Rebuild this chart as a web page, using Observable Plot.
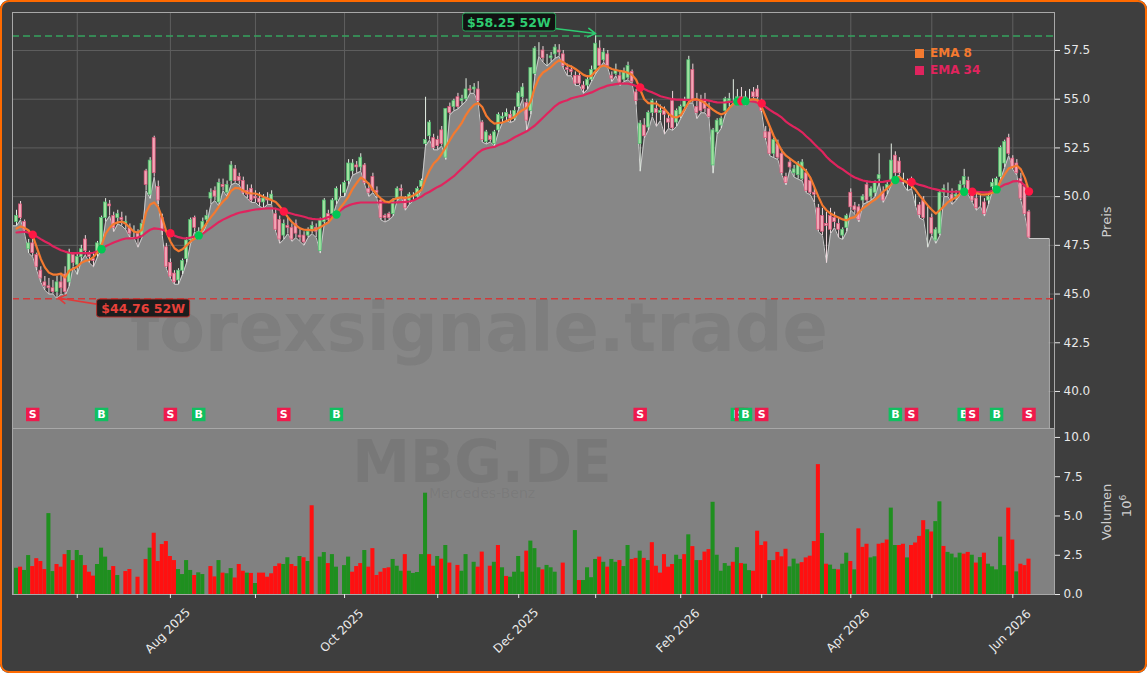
<!DOCTYPE html>
<html><head><meta charset="utf-8">
<script src="https://cdn.jsdelivr.net/npm/d3@7"></script>
<script src="https://cdn.jsdelivr.net/npm/@observablehq/plot@0.6"></script>
<style>
body{margin:0;background:#ffffff;}
#wrap{position:relative;width:1147px;height:673px;background:#3e3e3e;border-radius:9px;overflow:hidden;font-family:"DejaVu Sans",sans-serif;}
#border{position:absolute;left:0;top:0;width:1147px;height:673px;box-sizing:border-box;border:2px solid #ff6a00;border-radius:9px;pointer-events:none;}
#price,#vol,#over{position:absolute;left:0;}
#price{top:0}
#vol{top:428px}
#over{top:0;width:1147px;height:673px;pointer-events:none}
.lbl52{position:absolute;transform:translate(-50%,-50%);font:bold 12.5px "DejaVu Sans",sans-serif;padding:1px 4px;border-radius:3px;background:rgba(10,10,10,0.85);white-space:nowrap;line-height:15px}
.axl{position:absolute;transform:translate(-50%,-50%) rotate(-90deg);color:#cfcfcf;font:13px "DejaVu Sans",sans-serif;white-space:nowrap}
.leg{position:absolute;font:bold 12px "DejaVu Sans",sans-serif;white-space:nowrap;line-height:17px}
.leg span.sq{display:inline-block;width:9px;height:9px;margin-right:6px;vertical-align:-1px}
</style></head><body>
<div id="wrap"><div id="price"></div><div id="vol"></div><div id="over"></div><div id="border"></div></div>
<script>
// ---------- data (trading-day index 0 = 10 Jun 2025 ... 250 = 5 Jun 2026) ----------
const openP = [
48.7,49.6,48.7,47.3,47.6,47.0,46.2,45.6,45.4,45.3,
45.1,45.6,46.0,45.6,47.0,46.5,46.9,47.8,47.0,46.8,
47.1,47.5,48.9,49.6,49.0,48.9,48.9,48.6,48.4,48.2,
48.1,48.0,51.3,50.1,53.0,50.5,48.9,47.4,46.6,46.05,
45.7,46.2,46.8,47.75,48.9,47.9,48.3,48.8,49.9,50.3,
49.7,50.6,50.2,50.8,51.4,51.0,50.8,50.3,50.4,50.0,
49.9,49.7,49.9,49.8,49.1,48.8,48.0,48.5,48.4,48.6,
48.0,48.0,48.0,48.3,48.4,47.2,48.7,49.1,49.1,49.8,
50.3,50.2,50.8,51.3,51.6,51.5,51.6,50.4,51.0,50.3,
49.8,49.0,49.1,49.1,49.9,50.4,49.9,49.8,50.0,50.0,
50.5,52.7,53.1,53.0,52.9,53.4,52.0,54.6,54.6,55.1,
54.9,55.0,55.5,55.5,55.5,53.8,52.8,53.1,52.7,53.4,
54.0,54.1,54.2,54.0,54.6,55.1,54.8,54.4,56.3,57.5,
57.5,57.0,57.1,57.3,57.5,57.3,56.6,56.5,56.2,56.2,
55.7,55.7,56.0,56.5,57.6,57.0,57.3,56.2,56.3,56.2,
56.0,56.1,56.4,55.35,52.7,53.65,53.55,54.3,54.5,54.3,
54.4,54.0,54.9,53.8,54.2,54.6,54.9,56.5,54.6,54.9,
54.9,54.5,51.6,53.3,53.65,54.4,54.9,55.0,55.0,55.1,
54.9,55.1,55.35,55.5,54.8,53.3,53.3,52.2,52.7,52.2,
51.0,51.75,51.2,51.1,50.9,51.2,50.8,50.2,49.4,49.0,
48.6,49.0,48.9,48.6,48.0,48.4,50.2,49.5,49.45,49.8,
50.6,50.0,50.2,50.9,50.2,50.4,50.8,52.1,51.8,51.0,
50.6,50.8,49.8,49.55,49.8,49.1,48.9,47.75,48.1,50.2,
50.3,50.1,50.0,50.3,50.6,50.8,50.1,49.9,49.8,49.7,
49.8,50.5,50.5,51.0,51.7,53.0,51.95,51.7,50.9,50.5,
49.2];
const highP = [
49.3,49.75,48.8,47.8,47.8,47.1,46.4,45.9,45.8,45.7,
45.9,46.0,46.4,47.3,47.1,47.1,47.5,48.0,47.2,47.1,
47.7,49.0,49.9,49.8,49.2,49.3,49.2,49.0,48.6,48.5,
48.3,48.8,51.4,52.0,53.1,50.8,49.1,47.6,46.8,46.2,
46.3,46.8,47.9,48.9,49.0,48.4,48.9,49.3,50.4,50.5,
50.9,50.9,50.8,51.8,51.6,51.2,51.0,50.6,50.6,50.3,
50.2,50.1,50.2,50.3,49.4,49.0,48.8,48.9,48.6,48.8,
48.3,48.2,48.4,48.7,48.6,48.9,49.9,49.3,49.9,50.5,
50.6,50.8,51.9,51.9,51.8,52.2,51.7,50.7,51.2,50.5,
49.9,49.1,49.2,49.9,50.5,50.6,50.0,50.2,50.2,50.5,
50.9,55.1,53.9,53.2,53.1,53.6,54.5,54.8,55.0,55.3,
55.2,56.05,55.7,55.8,55.9,53.9,53.4,53.2,53.4,54.3,
54.3,54.5,54.4,54.6,55.4,55.8,55.0,56.6,57.7,57.9,
57.7,57.3,57.4,57.8,57.8,57.5,56.8,56.7,56.4,56.4,
55.9,56.2,56.7,58.25,58.0,57.6,57.5,56.4,56.8,56.4,
56.6,56.9,56.5,55.5,53.9,54.0,54.4,55.0,54.9,54.7,
54.6,54.3,55.4,54.5,54.7,55.1,57.2,56.8,55.3,55.2,
55.3,54.8,53.5,54.0,54.1,55.1,55.3,56.0,55.5,55.6,
55.4,55.5,55.6,55.7,55.0,53.6,53.5,53.0,52.9,52.4,
51.2,51.9,51.6,51.8,51.9,51.4,51.0,50.5,49.6,49.4,
49.2,49.4,49.2,48.9,48.4,49.1,50.4,49.7,49.6,50.1,
50.8,50.5,50.8,52.2,50.5,50.8,52.7,52.3,52.0,51.2,
50.9,51.0,50.1,49.7,50.0,49.5,49.1,48.4,50.3,50.6,
50.7,50.4,50.3,50.8,51.4,51.0,50.3,50.2,50.1,49.9,
50.2,50.9,51.0,52.6,52.9,53.2,52.1,51.9,51.2,50.6,
49.3];
const lowP = [
48.5,48.8,48.1,47.1,46.9,46.2,45.6,45.2,45.0,45.0,
44.76,45.0,44.9,45.4,46.4,46.0,46.7,47.0,46.6,46.4,
46.9,47.3,48.7,49.0,48.2,48.6,48.5,48.3,47.9,47.9,
47.4,47.9,50.3,49.9,51.0,49.6,48.0,46.3,45.8,45.5,
45.5,46.0,46.6,47.6,48.2,47.8,48.1,48.6,49.6,49.8,
49.5,50.3,50.0,50.6,50.7,50.6,50.1,49.9,49.7,49.7,
49.5,49.4,49.6,49.6,48.2,47.6,47.8,48.1,47.7,47.9,
47.7,47.5,47.9,48.1,47.9,47.1,48.6,48.7,48.9,49.6,
50.0,50.0,50.6,51.1,51.2,51.3,50.6,50.0,50.2,49.9,
48.8,48.7,48.8,49.0,49.8,50.0,49.3,49.6,49.8,49.9,
50.4,52.6,52.9,52.4,52.4,52.6,51.9,54.2,54.4,54.5,
54.7,54.9,55.3,55.3,54.8,52.8,52.7,52.8,52.6,53.3,
53.8,53.9,53.8,53.9,54.5,55.0,53.4,54.2,56.2,57.2,
56.9,56.7,56.9,57.1,57.2,56.6,56.2,56.2,55.7,55.7,
55.3,55.5,55.9,56.3,56.6,56.9,56.6,55.9,56.2,55.7,
55.9,56.0,55.8,54.7,51.3,53.0,53.4,54.1,53.6,53.9,
53.2,53.5,53.4,53.6,54.0,54.4,54.8,54.8,54.0,54.3,
54.3,54.0,51.2,53.2,53.5,54.2,54.6,54.8,54.7,54.8,
54.7,54.9,55.0,55.0,54.3,52.9,52.1,52.0,51.9,51.1,
50.6,51.4,51.0,50.9,50.8,50.2,50.1,49.7,48.2,48.0,
46.6,48.1,48.4,47.9,47.8,48.2,49.3,49.1,48.7,49.6,
49.7,49.8,50.0,50.7,49.7,50.1,50.6,51.0,51.1,50.6,
50.3,50.4,49.5,48.9,48.8,47.4,48.0,47.6,48.0,50.0,
50.0,49.6,49.8,50.1,50.4,50.1,49.7,49.3,49.5,49.0,
49.6,50.3,50.3,50.9,51.5,52.1,51.4,51.1,49.8,49.0,
47.85];
const closeP = [
49.0,48.9,48.3,47.6,47.1,46.4,45.8,45.4,45.3,45.1,
45.6,45.3,45.1,47.1,46.6,46.9,47.3,47.2,46.9,46.7,
47.6,48.9,49.7,49.5,48.4,49.1,48.8,48.7,48.1,48.2,
47.9,48.6,50.6,51.85,51.2,49.8,48.3,46.4,45.9,45.6,
46.2,46.7,47.75,48.8,48.4,48.2,48.7,49.0,50.2,50.0,
50.7,50.5,50.6,51.6,50.8,50.8,50.2,50.1,49.8,49.9,
49.7,49.9,49.8,50.1,48.3,47.8,48.6,48.4,47.8,48.1,
47.9,47.65,48.2,48.5,48.2,48.8,49.8,48.8,49.8,50.4,
50.3,50.7,51.7,51.7,51.5,52.0,50.7,50.2,50.3,50.2,
48.9,48.9,48.9,49.8,50.4,50.3,49.4,50.1,50.0,50.4,
50.8,52.9,53.8,52.5,52.6,52.7,54.5,54.3,54.9,54.6,
55.0,55.5,55.45,55.6,54.9,52.9,53.3,52.9,53.3,54.2,
54.1,54.3,54.0,54.4,55.3,55.6,53.9,56.6,57.6,57.5,
57.1,57.0,57.2,57.65,57.4,56.7,56.5,56.4,55.8,55.8,
55.5,56.0,56.5,57.85,56.7,57.4,56.7,56.05,56.5,55.85,
56.4,56.7,55.9,54.9,53.75,53.1,54.3,54.9,54.3,54.4,
54.2,53.8,53.5,54.4,54.6,54.9,57.0,54.9,54.3,54.4,
54.5,54.1,53.4,53.9,54.0,55.0,55.0,55.0,55.1,55.0,
55.1,55.1,55.1,55.1,54.4,53.0,52.2,52.9,52.0,51.2,
50.7,51.5,51.4,51.7,51.75,50.3,50.2,50.1,48.3,48.2,
48.5,48.3,48.7,48.3,48.3,49.0,49.45,49.3,48.8,50.0,
49.8,50.4,50.7,51.1,49.8,50.6,51.85,51.2,51.2,51.0,
50.6,50.6,49.8,49.05,48.9,49.1,48.1,48.3,50.2,50.4,
50.3,49.8,50.1,50.6,51.0,50.2,49.8,49.4,49.8,49.1,
50.0,50.7,50.9,52.5,52.8,52.2,51.5,51.2,49.9,49.1,
47.9];
const ema8 = [
48.36,48.47,48.4,48.26,48.0,47.4,46.8,46.37,46.1,46.0,
46.0,46.05,45.85,46.2,46.3,46.4,46.6,46.7,46.75,46.9,
47.13,47.5,48.1,48.4,48.6,48.68,48.72,48.6,48.4,48.2,
48.16,48.3,49.2,49.6,49.7,49.45,48.9,48.2,47.7,47.35,
47.2,47.3,47.5,47.7,47.85,48.0,48.35,48.65,48.95,49.2,
49.5,49.75,49.95,50.3,50.45,50.42,50.3,50.2,50.16,50.16,
50.08,49.98,49.9,49.82,49.72,49.5,49.24,48.95,48.7,48.52,
48.37,48.3,48.29,48.27,48.33,48.43,48.55,48.67,48.93,49.1,
49.44,49.7,50.0,50.4,50.7,50.98,50.85,50.65,50.35,50.1,
49.9,49.75,49.72,49.85,49.92,49.96,49.94,49.97,50.06,50.2,
50.35,50.9,51.35,51.7,51.9,52.2,52.55,52.9,53.24,53.5,
53.8,54.2,54.5,54.72,54.8,54.6,54.15,53.9,53.75,53.78,
53.8,53.88,53.98,54.1,54.3,54.45,54.55,54.9,55.6,56.1,
56.37,56.5,56.65,56.85,57.0,56.9,56.75,56.68,56.55,56.4,
56.25,56.17,56.2,56.45,56.65,56.73,56.65,56.55,56.5,56.45,
56.42,56.35,56.25,56.0,55.5,55.0,54.8,54.78,54.78,54.62,
54.5,54.25,54.1,54.06,54.17,54.5,54.85,54.98,55.0,54.92,
54.8,54.62,54.45,54.32,54.22,54.3,54.55,54.75,54.88,54.92,
54.95,54.97,55.0,54.95,54.6,54.1,53.6,53.1,52.72,52.35,
52.1,51.95,51.8,51.65,51.5,51.3,50.98,50.5,50.0,49.55,
49.3,49.13,49.02,48.93,48.83,48.78,48.9,48.95,49.2,49.4,
49.55,49.72,49.85,50.03,50.25,50.42,50.62,50.95,51.0,50.83,
50.7,50.55,50.35,50.05,49.8,49.55,49.33,49.13,49.3,49.5,
49.72,49.85,49.95,50.16,50.3,50.28,50.25,50.18,50.12,50.1,
50.13,50.2,50.35,50.8,51.15,51.45,51.52,51.6,51.4,50.95,
50.3];
const ema34 = [
48.16,48.18,48.2,48.15,48.05,47.95,47.82,47.7,47.6,47.45,
47.35,47.25,47.18,47.12,47.1,47.1,47.1,47.1,47.1,47.12,
47.2,47.3,47.45,47.55,47.65,47.72,47.8,47.85,47.86,47.87,
47.9,47.98,48.15,48.3,48.37,48.35,48.3,48.22,48.12,48.0,
47.92,47.87,47.86,47.9,47.95,48.0,48.1,48.25,48.4,48.55,
48.7,48.82,48.92,49.02,49.1,49.17,49.22,49.26,49.3,49.34,
49.36,49.38,49.4,49.4,49.38,49.32,49.24,49.18,49.12,49.06,
49.02,48.97,48.9,48.86,48.84,48.83,48.88,48.95,49.0,49.08,
49.3,49.45,49.55,49.62,49.67,49.7,49.7,49.7,49.7,49.7,
49.7,49.7,49.7,49.7,49.71,49.72,49.73,49.75,49.8,49.9,
50.0,50.15,50.25,50.38,50.5,50.6,50.75,50.9,51.05,51.25,
51.45,51.65,51.85,52.05,52.25,52.4,52.47,52.52,52.55,52.65,
52.72,52.8,52.92,53.05,53.15,53.25,53.35,53.5,53.65,53.85,
54.05,54.25,54.45,54.65,54.8,54.88,54.95,55.05,55.1,55.15,
55.2,55.28,55.35,55.45,55.55,55.62,55.7,55.74,55.77,55.8,
55.8,55.8,55.75,55.68,55.6,55.52,55.42,55.35,55.25,55.15,
55.1,55.05,55.0,54.98,54.98,54.97,54.97,54.97,54.97,54.97,
54.97,54.93,54.88,54.84,54.83,54.84,54.86,54.87,54.88,54.9,
54.9,54.9,54.88,54.82,54.78,54.6,54.45,54.32,54.2,54.05,
53.85,53.7,53.57,53.45,53.3,53.1,52.92,52.7,52.5,52.3,
52.05,51.85,51.68,51.52,51.4,51.25,51.1,50.98,50.9,50.83,
50.78,50.76,50.75,50.75,50.76,50.8,50.83,50.85,50.83,50.8,
50.78,50.75,50.68,50.6,50.55,50.48,50.42,50.37,50.32,50.28,
50.26,50.25,50.25,50.25,50.25,50.25,50.25,50.24,50.23,50.22,
50.22,50.3,50.37,50.5,50.62,50.68,50.78,50.8,50.75,50.55,
50.26];
// volume in millions and bar colour (1 = green, 0 = red)
const volume = [
1.67,1.74,1.53,2.48,1.78,2.28,2.1,1.59,5.15,1.46,
1.91,1.74,2.54,2.8,2.16,2.8,2.48,1.84,1.42,1.17,
1.91,2.95,2.38,1.53,1.78,1.21,0,1.46,1.59,0,
1.1,0,2.23,2.95,3.9,2.1,3.18,3.37,2.42,2.16,
1.59,1.27,2.16,1.53,1.21,1.38,1.27,0,1.78,1.12,
2.16,1.36,1.32,1.65,1.05,1.91,1.48,1.36,1.34,0.7,
1.36,1.36,1.1,1.32,1.78,1.95,1.91,2.34,1.91,1.78,
2.42,2.34,2.1,5.65,0,2.38,2.67,1.97,2.54,1.74,
0,1.84,2.38,1.42,1.78,1.97,2.8,1.74,2.92,1.21,
1.42,1.65,1.7,2.23,1.8,1.48,2.54,1.48,1.34,1.4,
2.54,6.45,2.54,1.8,2.42,2.25,3.12,2.0,0,1.85,
1.48,2.54,0,2.05,1.74,2.7,0,1.8,2.05,3.12,
1.7,1.15,1.1,1.42,2.42,1.42,2.76,3.4,2.92,1.7,
1.57,1.85,1.7,1.42,0,2.0,0,0,4.07,0.89,
0.89,1.7,1.07,2.23,2.38,2.05,1.74,2.23,2.05,2.16,
1.78,3.12,2.23,2.3,2.76,2.3,2.16,3.3,1.8,1.36,
2.54,1.74,1.91,2.5,2.23,2.54,3.8,3.05,2.16,2.16,
2.7,2.86,5.87,2.5,1.48,1.97,1.8,2.05,2.98,1.97,
1.93,1.52,1.48,4.03,3.12,3.35,2.16,2.16,2.68,2.4,
2.88,1.76,2.25,1.94,2.03,2.33,2.44,3.37,8.27,3.88,
1.93,1.87,1.6,1.57,1.93,2.63,2.1,1.57,4.18,3.0,
3.2,2.33,2.4,3.2,3.26,3.47,5.5,3.12,3.12,3.2,
2.33,3.12,3.28,3.7,4.7,4.12,3.98,4.64,5.9,3.06,
2.68,2.57,2.33,2.63,2.57,2.68,2.5,2.0,2.35,2.63,
1.93,1.76,1.57,3.65,1.84,5.5,3.47,1.44,1.93,1.84,
2.25];
const volUp = [
1,0,1,1,0,0,0,0,1,1, 0,0,0,1,0,1,1,0,0,0, 1,1,1,1,0,1,0,0,0,0, 0,0,0,1,0,0,0,0,0,0,
1,1,1,1,0,1,1,0,0,0, 1,0,1,1,0,0,0,1,0,1, 0,0,0,0,0,0,1,1,0,0, 1,0,1,0,0,1,1,0,1,1,
0,1,1,0,0,0,1,0,0,0, 0,0,0,1,1,1,0,1,1,1, 1,1,0,0,1,0,1,0,0,0, 1,1,0,1,0,0,0,0,1,0,
1,0,1,1,1,1,0,1,1,1, 0,1,1,1,0,0,0,0,1,0, 1,1,1,1,0,1,0,1,1,0, 1,1,0,0,1,0,1,0,0,0,
0,0,0,1,1,0,1,0,1,0, 0,0,1,1,1,1,1,0,1,0, 1,1,0,0,0,0,1,0,0,0, 0,1,1,1,0,0,0,0,0,1,
0,1,1,0,1,1,0,1,0,0, 0,1,1,0,0,0,1,1,0,0, 1,0,0,0,0,1,0,1,1,0, 1,1,1,1,0,0,1,0,1,0,
1,1,1,1,1,0,0,1,0,0, 0];
// EMA crossover signals
const signalIdx  = [4,21,38,45,66,79,154,178,179,180,184,217,221,234,236,242,250];
const signalType = ["S","B","S","B","S","B","S","B","S","B","S","B","S","B","S","B","S"];
// 52-week extremes
const high52 = 58.25, high52Idx = 143;
const low52 = 44.76, low52Idx = 10;
// axis ticks
const monthTickIdx = [15,38,59,81,104,124,143,164,184,206,226,246];
const monthTickLabels = ["","Aug 2025","","Oct 2025","","Dec 2025","","Feb 2026","","Apr 2026","","Jun 2026"];
const priceTicks = [40,42.5,45,47.5,50,52.5,55,57.5];
const volTicks = [0,2.5,5,7.5,10];
// layout constants
const X_MIN = -0.99, X_MAX = 256.3, AREA_END = 255;
const PRICE_MIN = 38.1, PRICE_MAX = 59.45, VOL_MAX = 10.57;
const SIGNAL_Y = 38.82;
const highLabelPos = {i:121.7, p:58.94}, lowLabelPos = {i:31.4, p:44.26};
const highArrow = {i1:132.9, p1:58.63, i2:143.0, p2:58.37};
const lowArrow = {i1:20.2, p1:44.47, i2:10.3, p2:44.80};

// ---------- build ----------
const N = Math.min(openP.length, highP.length, lowP.length, closeP.length, ema8.length, ema34.length);
const idx = d3.range(N);
const candles = idx.map(i => ({i, o:openP[i], h:highP[i], l:lowP[i], c:closeP[i], up: closeP[i] >= openP[i]}));
const areaPts = [{i:X_MIN, l:lowP[0]}, ...idx.map(i => ({i, l:lowP[i]})), {i:AREA_END, l:lowP[N-1]}];
const outlinePts = [...areaPts, {i:AREA_END, l:PRICE_MIN}];
const signals = signalIdx.map((i,k) => ({i, t:signalType[k]}));
const vols = d3.range(Math.min(volume.length, volUp.length)).filter(i => volume[i] > 0).map(i => ({i, v:volume[i], up:volUp[i]}));

const C = {
  orange:"#f47a30", pink:"#e0245e", grid:"#5f5f5f", area:"#878787",
  upBody:"#9fe29f", upEdge:"#4cc070", dnBody:"#f2a6b6", dnEdge:"#e0557a",
  upWick:"#e4efe4", dnWick:"#efd8dd", buy:"#10c060", sell:"#ef1a4c",
  volUp:"#1f8f1f", volDn:"#ff1010"
};
const font = {fontFamily:"DejaVu Sans, sans-serif", fontSize:"12px", color:"#e8e8e8", background:"transparent", overflow:"visible"};

// one square + letter per signal, so later labels cover earlier ones
const signalMarks = signals.flatMap(s => [
  Plot.dot([s], {x:"i", y:() => SIGNAL_Y, symbol:"square", r:7.6, fill:s.t === "B" ? C.buy : C.sell}),
  Plot.text([s], {x:"i", y:() => SIGNAL_Y, text:"t", fill:"white", fontWeight:"bold", fontSize:11})
]);

const price = Plot.plot({
  width:1147, height:428, marginTop:12, marginBottom:0, marginLeft:12, marginRight:93,
  x:{domain:[X_MIN, X_MAX], axis:null},
  y:{domain:[PRICE_MIN, PRICE_MAX], axis:null},
  style: font,
  marks:[
    Plot.frame({fill:"#3c3c3c"}),
    Plot.gridY(priceTicks, {stroke:C.grid, strokeOpacity:1, strokeWidth:1}),
    Plot.gridX(monthTickIdx, {stroke:C.grid, strokeOpacity:1, strokeWidth:1}),
    Plot.areaY(areaPts, {x:"i", y1:() => PRICE_MIN, y2:"l", fill:C.area}),
    Plot.line(outlinePts, {x:"i", y:"l", stroke:"#c9c9c9", strokeWidth:1}),
    Plot.ruleY([high52], {stroke:"#35a35e", strokeWidth:1.5, strokeDasharray:"7,4"}),
    Plot.ruleY([low52], {stroke:"#d03a3a", strokeWidth:1.5, strokeDasharray:"7,4"}),
    Plot.ruleX(candles, {x:"i", y1:"l", y2:"h", stroke:d => d.up ? C.upWick : C.dnWick, strokeWidth:1}),
    Plot.rect(candles, {x1:d => d.i - 0.36, x2:d => d.i + 0.36, y1:"o", y2:"c",
      fill:d => d.up ? C.upBody : C.dnBody, stroke:d => d.up ? C.upEdge : C.dnEdge, strokeWidth:0.7}),
    Plot.line(idx, {x:i => i, y:i => ema34[i], stroke:C.pink, strokeWidth:2.2}),
    Plot.line(idx, {x:i => i, y:i => ema8[i], stroke:C.orange, strokeWidth:2.2}),
    Plot.dot(signals, {x:"i", y:d => ema34[d.i], r:4.2, fill:d => d.t === "B" ? "#00c853" : "#ff1744"}),
    ...signalMarks,
    Plot.arrow([highArrow], {x1:"i1", y1:"p1", x2:"i2", y2:"p2", stroke:"#2ecc71", strokeWidth:1.6, headLength:8}),
    Plot.arrow([lowArrow], {x1:"i1", y1:"p1", x2:"i2", y2:"p2", stroke:"#e03a3a", strokeWidth:1.6, headLength:8}),
    Plot.frame({stroke:"#a8a8a8", strokeWidth:1}),
    Plot.axisY(priceTicks, {anchor:"right", tickSize:5, tickPadding:4, tickFormat:d => d.toFixed(1), label:null})
  ]
});
document.getElementById("price").appendChild(price);

const labelled = monthTickIdx.map((i,k) => ({i, t:monthTickLabels[k]})).filter(d => d.t);
const vol = Plot.plot({
  width:1147, height:245, marginTop:0, marginBottom:79, marginLeft:12, marginRight:93,
  x:{domain:[X_MIN, X_MAX], axis:null},
  y:{domain:[0, VOL_MAX], axis:null},
  style: font,
  marks:[
    Plot.frame({fill:"#818181"}),
    Plot.rect(vols, {x1:d => d.i - 0.5, x2:d => d.i + 0.5, y1:() => 0, y2:"v", fill:d => d.up ? C.volUp : C.volDn}),
    Plot.frame({stroke:"#a8a8a8", strokeWidth:1}),
    Plot.axisY(volTicks, {anchor:"right", tickSize:5, tickPadding:4, tickFormat:d => d.toFixed(1), label:null}),
    Plot.axisX(monthTickIdx, {anchor:"bottom", tickSize:4, tickFormat:() => "", label:null}),
    Plot.text(labelled, {x:"i", frameAnchor:"bottom", dy:39, rotate:-45, text:"t", textAnchor:"middle", fontSize:12, fill:"#ececec"})
  ]
});
document.getElementById("vol").appendChild(vol);

// ---------- overlays (labels positioned with the plot scales) ----------
const sx = price.scale("x"), sy = price.scale("y");
const over = document.getElementById("over");
function addDiv(cls, html, left, top, style) {
  const d = document.createElement("div");
  d.className = cls; d.innerHTML = html;
  d.style.left = left + "px"; d.style.top = top + "px";
  Object.assign(d.style, style || {});
  over.appendChild(d); return d;
}
// watermarks
const wm = document.createElementNS("http://www.w3.org/2000/svg","svg");
wm.setAttribute("width",1147); wm.setAttribute("height",673);
wm.style.position="absolute"; wm.style.left="0"; wm.style.top="0";
wm.innerHTML =
 '<text x="479" y="351" text-anchor="middle" font-family="DejaVu Sans" font-weight="bold" font-size="67" fill="rgba(40,40,40,0.085)">forexsignale.trade</text>' +
 '<text x="482" y="482" text-anchor="middle" font-family="DejaVu Sans" font-weight="bold" font-size="58" fill="rgba(40,40,40,0.085)">MBG.DE</text>' +
 '<text x="482" y="498" text-anchor="middle" font-family="DejaVu Sans" font-size="14" fill="rgba(40,40,40,0.085)">Mercedes-Benz</text>';
over.appendChild(wm);

addDiv("lbl52", "$" + high52.toFixed(2) + " 52W", sx.apply(highLabelPos.i), sy.apply(highLabelPos.p), {color:"#2ecc71", border:"1.5px solid #27a85a"});
addDiv("lbl52", "$" + low52.toFixed(2) + " 52W", sx.apply(lowLabelPos.i), sy.apply(lowLabelPos.p), {color:"#e8413a", border:"1.5px solid #b8302c"});

addDiv("axl", "Preis", 1106, 222);
addDiv("axl", "Volumen", 1106, 512);
addDiv("axl", "10<sup style='font-size:9px'>6</sup>", 1126, 506);

addDiv("leg", '<span class="sq" style="background:' + C.orange + '"></span><span style="color:' + C.orange + '">EMA 8</span>', 915, 45);
addDiv("leg", '<span class="sq" style="background:' + C.pink + '"></span><span style="color:' + C.pink + '">EMA 34</span>', 915, 62);
</script></body></html>
